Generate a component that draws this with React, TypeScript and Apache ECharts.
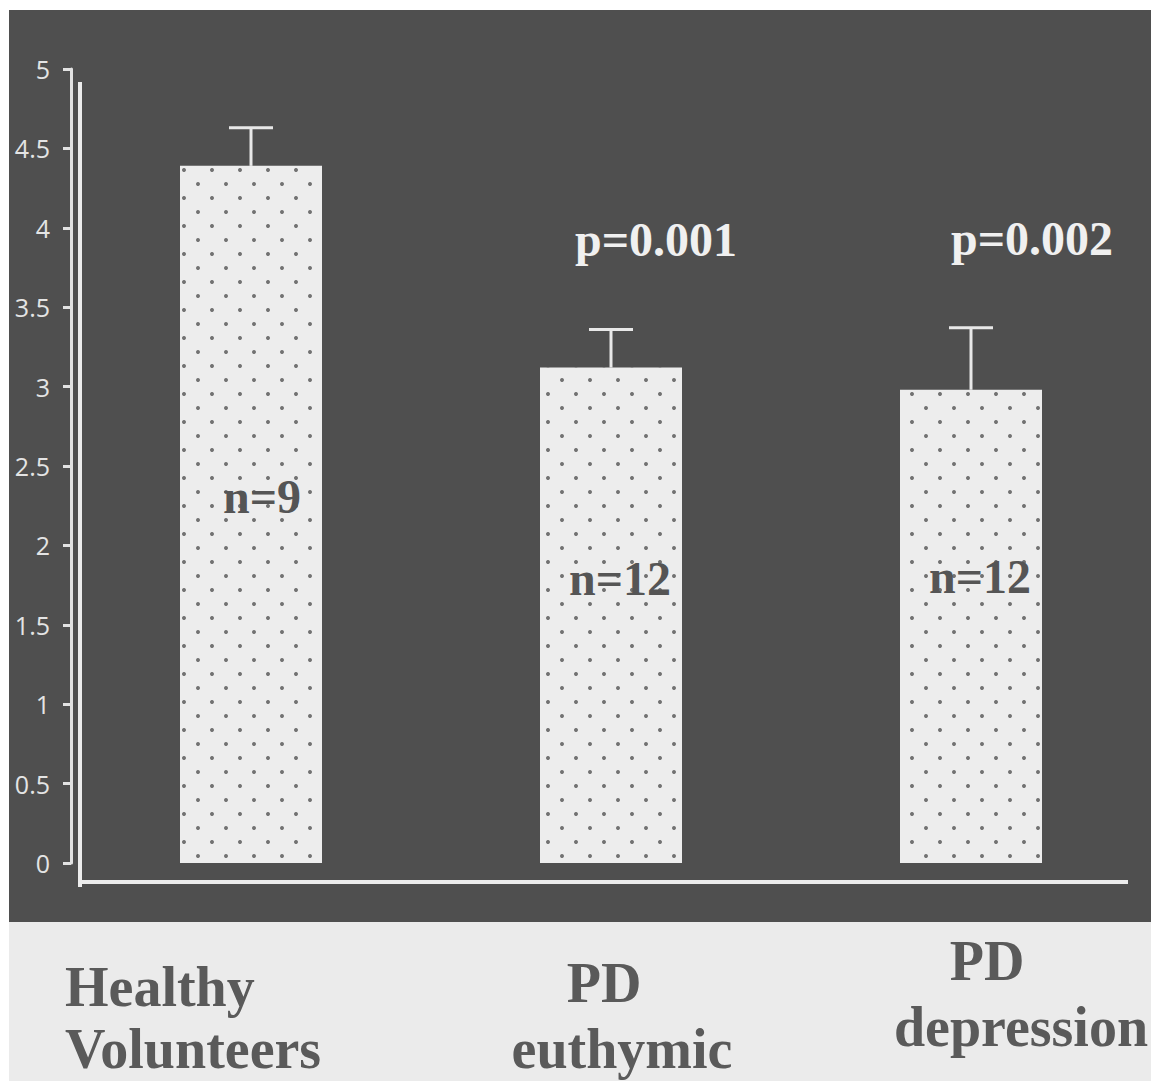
import React, { useEffect, useRef } from "react";
import * as echarts from "echarts";

const categories = ["Healthy\nVolunteers", "PD\neuthymic", "PD\ndepression"];
const means = [4.39, 3.12, 2.98];
const errors = [0.24, 0.24, 0.39];
const nLabels = ["n=9", "n=12", "n=12"];
const pLabels = ["", "p=0.001", "p=0.002"];

// label styling (positions relative to marks)
const nOffsets = [[11, -18], [9, -37], [9, -50]];
const pOffsets = [[0, -90], [45, -90], [61, -89]];
const catPadding = [
  [24, 110, 0, 0],
  [27, 0, 0, 22],
  [5, 0, 0, 100],
];

const SERIF = "'Liberation Serif', 'Times New Roman', serif";

export default function App() {
  const ref = useRef<HTMLDivElement>(null);
  useEffect(() => {
    if (!ref.current) return;
    const chart = echarts.init(ref.current, undefined, { renderer: "svg" });
    const option: any = {
      animation: false,
      backgroundColor: "#ffffff",
      grid: { left: 71, right: 0, top: 69, height: 794, containLabel: false, outerBoundsMode: "none" },
      graphic: [
        { type: "rect", z: -20, silent: true, shape: { x: 9, y: 10, width: 1142, height: 1071 }, style: { fill: "#ebebeb" } },
        { type: "rect", z: -19, silent: true, shape: { x: 9, y: 10, width: 1142, height: 912 }, style: { fill: "#4f4f4f" } },
        { type: "line", z: 10, silent: true, shape: { x1: 80, y1: 82, x2: 80, y2: 887 }, style: { stroke: "#ececec", lineWidth: 4 } },
        { type: "line", z: 10, silent: true, shape: { x1: 78, y1: 882, x2: 1128, y2: 882 }, style: { stroke: "#ececec", lineWidth: 4 } },
      ],
      xAxis: {
        type: "category",
        data: categories.map((c, i) => ({ value: c, textStyle: { padding: catPadding[i] } })),
        axisLine: { show: false },
        axisTick: { show: false },
        splitLine: { show: false },
        axisLabel: {
          interval: 0,
          margin: 60,
          fontFamily: SERIF,
          fontWeight: "bold",
          fontSize: 56,
          lineHeight: 66,
          color: "#5a5a5a",
          formatter: (v: string, i: number) =>
            v.split("\n").map((l, j) => `{c${i}l${j}|${l}}`).join("\n"),
          rich: {
            c0l0: { width: 262, align: "left", lineHeight: 80 },
            c0l1: { width: 262, align: "left", lineHeight: 44 },
            c1l0: { padding: [0, 36, 0, 0] },
            c1l1: {},
            c2l0: { padding: [0, 68, 0, 0] },
            c2l1: {},
          },
        },
      },
      yAxis: {
        type: "value",
        min: 0,
        max: 5,
        interval: 0.5,
        splitLine: { show: false },
        axisLine: { show: true, lineStyle: { color: "#e2e2e2", width: 3 } },
        axisTick: { show: true, length: 8, lineStyle: { color: "#e2e2e2", width: 3 } },
        axisLabel: {
          margin: 21,
          color: "#e4e4e4",
          fontSize: 25,
          fontFamily: "'Open Sans', sans-serif",
        },
      },
      series: [
        {
          type: "bar",
          barWidth: 142,
          data: means.map((v, i) => ({ value: v, label: { offset: nOffsets[i] } })),
          itemStyle: {
            color: "#ededed",
            decal: {
              symbol: "circle",
              symbolSize: 1,
              color: "#727272",
              dashArrayX: [[4, 24], [0, 14, 4, 10]],
              dashArrayY: [4, 10],
            },
          },
          label: {
            show: true,
            position: "inside",
            formatter: (p: any) => nLabels[p.dataIndex],
            fontFamily: SERIF,
            fontWeight: "bold",
            fontSize: 48,
            color: "#555555",
          },
          z: 2,
        },
        {
          type: "custom",
          data: means.map((m, i) => [i, m, errors[i]]),
          encode: { x: 0, y: 1 },
          z: 3,
          renderItem: (params: any, api: any) => {
            const i = api.value(0);
            const m = api.value(1);
            const e = api.value(2);
            const base = api.coord([i, m]);
            const top = api.coord([i, m + e]);
            const st = { stroke: "#e8e8e8", lineWidth: 3 };
            const children: any[] = [
              { type: "line", shape: { x1: top[0], y1: base[1], x2: top[0], y2: top[1] }, style: st },
              { type: "line", shape: { x1: top[0] - 22, y1: top[1], x2: top[0] + 22, y2: top[1] }, style: st },
            ];
            if (pLabels[i]) {
              children.push({
                type: "text",
                x: top[0] + pOffsets[i][0],
                y: top[1] + pOffsets[i][1],
                style: {
                  text: pLabels[i],
                  fill: "#f0f0f0",
                  font: `bold 48px ${SERIF}`,
                  align: "center",
                  verticalAlign: "middle",
                },
              });
            }
            return { type: "group", children };
          },
        },
      ],
    };
    chart.setOption(option);
    return () => chart.dispose();
  }, []);
  return (
    <div
      ref={ref}
      style={{ position: "absolute", left: 0, top: 0, width: 1151, height: 1081 }}
    />
  );
}
